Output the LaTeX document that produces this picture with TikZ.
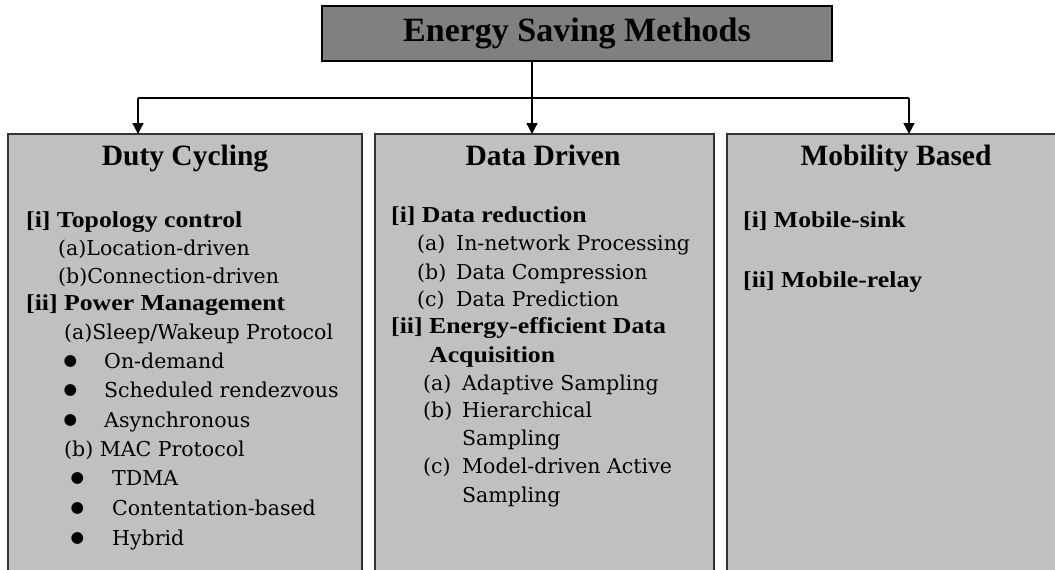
\documentclass[tikz,border=0pt]{standalone}
\usepackage{fontspec}
\setmainfont{DejaVu Serif}
\newfontfamily\headfont{Liberation Serif}
\newfontfamily\itemfont[FakeStretch=1.13]{Liberation Serif}
\newfontfamily\symfont{DejaVu Sans}
\usetikzlibrary{arrows.meta}
\definecolor{panel}{HTML}{C0C0C0}
\definecolor{rootfill}{HTML}{808080}
\definecolor{edge}{HTML}{333333}
\tikzset{
  rootbox/.style={draw=black, line width=1.5pt, fill=rootfill, minimum width=510pt,
    minimum height=55pt, inner sep=0pt, outer sep=0pt,
    font=\headfont\bfseries\fontsize{34}{36}\selectfont},
  panelbox/.style={draw=edge, line width=1.8pt, fill=panel, anchor=north west,
    minimum height=460pt, inner sep=0pt, outer sep=0pt},
  link/.style={line width=1.3pt, draw=black},
  arrowlink/.style={link, -{Triangle[width=11pt,length=11pt]}},
  head/.style={anchor=base, inner sep=0pt, font=\headfont\bfseries\fontsize{29.5}{30}\selectfont},
  topic/.style={anchor=base west, inner sep=0pt, font=\itemfont\bfseries\fontsize{22.8}{24}\selectfont},
  entry/.style={anchor=base west, inner sep=0pt, font=\fontsize{20.5}{24}\selectfont},
  dot/.style={anchor=base west, inner sep=0pt, font=\symfont\fontsize{15.5}{17}\selectfont},
}
\newcommand{\lbl}[1]{\makebox[39pt][l]{#1}}
\begin{document}
\begin{tikzpicture}[x=1pt, y=-1pt]
  \fill[white] (0,0) rectangle (1055,570);
  \useasboundingbox (0,0) rectangle (1055,570);

  % root and the three method panels
  \node[rootbox] (root) at (577,33.5) {Energy Saving Methods};
  \node[panelbox, minimum width=354pt] (duty) at (8,134) {};
  \node[panelbox, minimum width=339pt] (data) at (375,134) {};
  \node[panelbox, minimum width=364pt] (mob)  at (727,134) {};

  % connectors
  \coordinate (split) at (532,98);
  \coordinate (lefttap) at (138,98);
  \coordinate (righttap) at (909,98);
  \draw[link] (root.south -| split) -- (split);
  \draw[link] (lefttap) -- (righttap);
  \draw[arrowlink] (lefttap) -- (lefttap |- duty.north);
  \draw[arrowlink] (split) -- (split |- data.north);
  \draw[arrowlink] (righttap) -- (righttap |- mob.north);

  % panel headings
  \node[head] (hduty) at (185,165) {Duty Cycling};
  \node[head] (hdata) at (543,165) {Data Driven};
  \node[head] (hmob)  at (896,165) {Mobility Based};

  % duty cycling
  \node[topic] (dc1)  at (26,227) {[i] Topology control};
  \node[entry] (dc1a) at (58,255) {(a)Location-driven};
  \node[entry] (dc1b) at (58,283) {(b)Connection-driven};
  \node[topic] (dc2)  at (26,310) {[ii] Power Management};
  \node[entry] (dc2a) at (64,339) {(a)Sleep/Wakeup Protocol};
  \node[dot]   (bu1)  at (63.5,365) {●};
  \node[entry] (sw1)  at (104,368) {On-demand};
  \node[dot]   (bu2)  at (63.5,394) {●};
  \node[entry] (sw2)  at (104,397) {Scheduled rendezvous};
  \node[dot]   (bu3)  at (63.5,424) {●};
  \node[entry] (sw3)  at (104,427) {Asynchronous};
  \node[entry] (dc2b) at (64,456) {(b) MAC Protocol};
  \node[dot]   (bu4)  at (70.5,482) {●};
  \node[entry] (mac1) at (112,485) {TDMA};
  \node[dot]   (bu5)  at (70.5,512) {●};
  \node[entry] (mac2) at (112,515) {Contentation-based};
  \node[dot]   (bu6)  at (70.5,542) {●};
  \node[entry] (mac3) at (112,545) {Hybrid};

  % data driven
  \node[topic] (dd1)  at (391,222.5) {[i] Data reduction};
  \node[entry] (dd1a) at (417,250.5) {\lbl{(a)}In-network Processing};
  \node[entry] (dd1b) at (417,279) {\lbl{(b)}Data Compression};
  \node[entry] (dd1c) at (417,306) {\lbl{(c)}Data Prediction};
  \node[topic] (dd2)  at (391,333) {[ii] Energy-efficient Data};
  \node[topic] (dd2x) at (429,362) {Acquisition};
  \node[entry] (dd2a) at (423,390) {\lbl{(a)}Adaptive Sampling};
  \node[entry] (dd2b) at (423,417) {\lbl{(b)}Hierarchical};
  \node[entry] (dd2c) at (462,445) {Sampling};
  \node[entry] (dd2d) at (423,473) {\lbl{(c)}Model-driven Active};
  \node[entry] (dd2e) at (462,502) {Sampling};

  % mobility based
  \node[topic] (mb1) at (743,227) {[i] Mobile-sink};
  \node[topic] (mb2) at (743,287) {[ii] Mobile-relay};
\end{tikzpicture}
\end{document}
